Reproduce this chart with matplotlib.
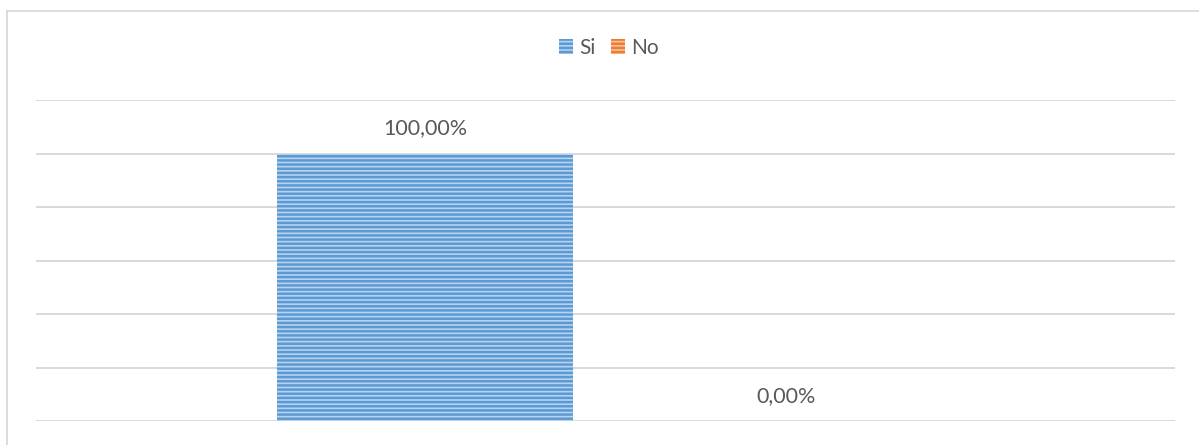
import matplotlib
matplotlib.use("Agg")
import matplotlib.pyplot as plt
from matplotlib.patches import Patch
from matplotlib.lines import Line2D

# Data
categories = [""]
series_names = ["Si", "No"]
values = [100.0, 0.0]
labels = ["100,00%", "0,00%"]
colors_face = ["#b9d2ee", "#f6c2a0"]
colors_hatch = ["#5b9bd5", "#ed7d31"]
y_ticks = [0, 20, 40, 60, 80, 100, 120]

plt.rcParams["font.family"] = ["Lato", "DejaVu Sans"]
plt.rcParams["hatch.linewidth"] = 1.8

W, H = 1199, 445
fig = plt.figure(figsize=(W / 100, H / 100), dpi=100)
ax = fig.add_axes([36 / W, (H - 421) / H, (1175 - 36) / W, (421 - 100) / H])

bar_w = 0.26
offsets = [-0.1585, 0.1585]
for i, (name, v) in enumerate(zip(series_names, values)):
    plt.rcParams["hatch.color"] = colors_hatch[i]
    ax.bar(offsets[i], v, width=bar_w, color=colors_face[i],
           hatch="----", edgecolor=colors_hatch[i], linewidth=0.0, zorder=3)
    ax.annotate(labels[i], (offsets[i], v), xytext=(0, 18), textcoords="offset points",
                ha="center", va="center", fontsize=15.5, color="#595959")

ax.set_xlim(-0.5, 0.5)
ax.set_ylim(0, 120)
ax.set_yticks(y_ticks)
ax.yaxis.grid(True, color="#d9d9d9", linewidth=1.4, zorder=0)
ax.tick_params(left=False, bottom=False, labelleft=False, labelbottom=False)
for s in ax.spines.values():
    s.set_visible(False)
ax.set_xticks([])

# Outer chart border (left and top visible)
fig.add_artist(Line2D([6.5 / W, 6.5 / W], [0, (H - 10.5) / H], transform=fig.transFigure,
                      color="#d9d9d9", linewidth=1.3))
fig.add_artist(Line2D([6.5 / W, 1], [(H - 10.5) / H, (H - 10.5) / H], transform=fig.transFigure,
                      color="#d9d9d9", linewidth=1.3))

handles = []
for i in range(2):
    plt.rcParams["hatch.color"] = colors_hatch[i]
    handles.append(Patch(facecolor=colors_face[i], edgecolor=colors_hatch[i], hatch="----",
                         linewidth=0.0, label=series_names[i]))
fig.legend(handles=handles, loc="center", bbox_to_anchor=(609 / W, (H - 48) / H),
           ncol=2, frameon=False, fontsize=15, handlelength=0.68, handleheight=0.72,
           handletextpad=0.28, columnspacing=0.75, labelcolor="#595959")

fig.savefig("out.png", dpi=100)
